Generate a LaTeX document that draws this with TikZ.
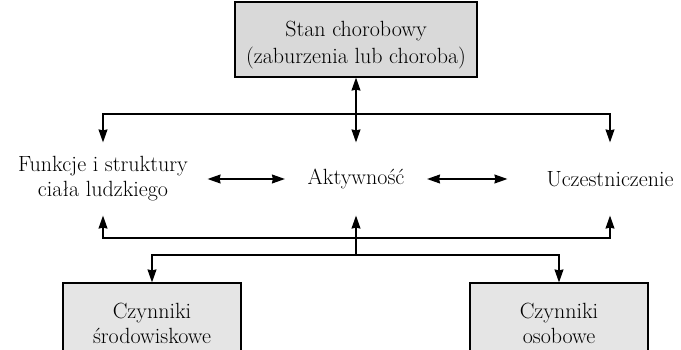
\documentclass[tikz,border=0pt]{standalone}
\usepackage{tikz}
\usetikzlibrary{arrows.meta, positioning}
\definecolor{gray85}{gray}{0.85}
\definecolor{gray90}{gray}{0.9}

\begin{document}
\begin{tikzpicture}[x=1pt, y=-1pt,
  basic/.style = {align=center, inner sep=0pt, font=\fontsize{22}{25}\selectfont},
  upper/.style = {basic, draw, fill=gray85, minimum width=242pt, minimum height=75pt},
  lower/.style = {basic, draw, fill=gray90, minimum width=178pt, minimum height=80pt},
  level/.style = {basic, minimum height=72pt},
  line width=1.2pt, >={Stealth[length=13pt, width=9pt, inset=1pt]}]

\useasboundingbox (0,0) rectangle (681,350);
\clip (0,0) rectangle (681,350);

% disease on top
\node[upper] (stan) at (356,39.5) {\rule{0pt}{27pt}Stan chorobowy \\[2pt] (zaburzenia lub choroba)};

% the three components in the middle row
\node[level, minimum width=208pt] (funk) at (103,179) {Funkcje i struktury \\ ciała ludzkiego};
\node[level, minimum width=141pt] (akt)  at (356,179) {Aktywność};
\node[level, minimum width=204pt] (ucz)  at (610,179) {Uczestniczenie};

% context factors, cut by the page border
\node[lower] (czs) at (152,323) {Czynniki \\ środowiskowe};
\node[lower] (czo) at (559,323) {Czynniki \\ osobowe};

%----------------------------------- junctions on the middle line -----------------------------------
\coordinate (topj) at (356,114);
\coordinate (botj) at (356,238);
\coordinate (botk) at (356,255);

%----------------------------------- arrows -----------------------------------
\draw[<->] (stan) -- (akt);
\foreach \n in {funk,ucz}
  \draw[->] (topj) -| (\n);

\draw[<->] (funk) -- (akt);
\draw[<->] (akt) -- (ucz);

\foreach \n in {funk,ucz}
  \draw[->] (botj) -| (\n);
\draw[->] (botk) -- (akt);
\foreach \n in {czs,czo}
  \draw[->] (botk) -| (\n);

\end{tikzpicture}
\end{document}
